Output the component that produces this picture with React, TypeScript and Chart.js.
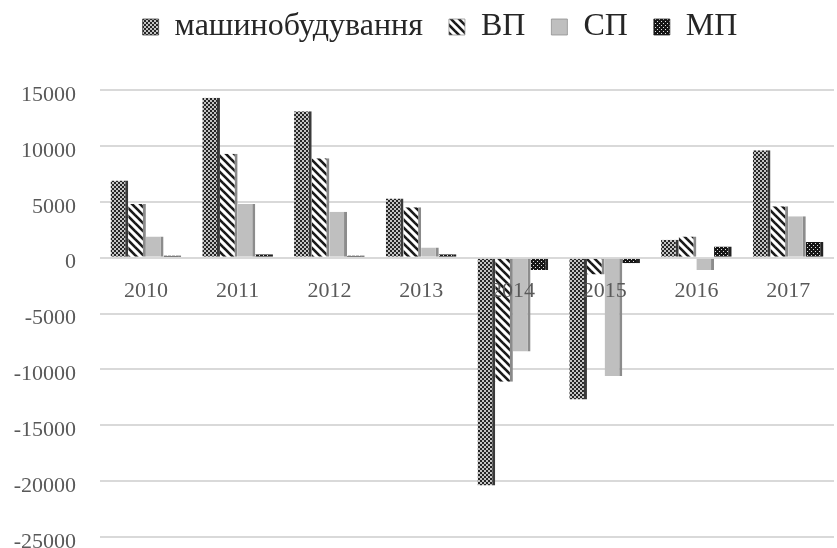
import React, { useEffect, useRef } from 'react';
import { Chart, registerables } from 'chart.js';

Chart.register(...registerables);

const categories = ['2010', '2011', '2012', '2013', '2014', '2015', '2016', '2017'];
const seriesNames = ['машинобудування', 'ВП', 'СП', 'МП'];
const mashValues = [6900, 14300, 13100, 5300, -20400, -12700, 1600, 9600];
const vpValues = [4800, 9300, 8900, 4500, -11100, -1500, 1900, 4600];
const spValues = [1900, 4800, 4100, 900, -8400, -10600, -1100, 3700];
const mpValues = [200, 300, 200, 300, -1100, -500, 1000, 1400];
const yMin = -25000;
const yMax = 15000;
const yStep = 5000;

const FONT = '"Liberation Serif", "Times New Roman", serif';

function makePattern(w: number, h: number, draw: (c: CanvasRenderingContext2D) => void) {
  const cv = document.createElement('canvas');
  cv.width = w;
  cv.height = h;
  const c = cv.getContext('2d')!;
  draw(c);
  return c.createPattern(cv, 'repeat')!;
}

const legendShift = {
  id: 'legendShift',
  afterLayout(chart: any) {
    if (chart.legend) {
      chart.legend.left += 23;
      chart.legend.right += 23;
    }
  },
};

export default function App() {
  const ref = useRef<HTMLCanvasElement>(null);

  useEffect(() => {
    document.body.style.margin = '0';
    const checker = makePattern(4, 4, (c) => {
      c.fillStyle = '#c4c4c4';
      c.fillRect(0, 0, 4, 4);
      c.fillStyle = '#262626';
      c.fillRect(0, 0, 2, 2);
      c.fillRect(2, 2, 2, 2);
    });
    const stripes = makePattern(8, 8, (c) => {
      c.fillStyle = '#ffffff';
      c.fillRect(0, 0, 8, 8);
      c.strokeStyle = '#1a1a1a';
      c.lineWidth = 2.6;
      for (const k of [-8, 0, 8]) {
        c.beginPath();
        c.moveTo(k - 1, -1);
        c.lineTo(k + 9, 9);
        c.stroke();
      }
    });
    const dots = makePattern(4, 4, (c) => {
      c.fillStyle = '#161616';
      c.fillRect(0, 0, 4, 4);
      c.fillStyle = '#e0e0e0';
      c.fillRect(1, 1, 1, 1);
      c.fillRect(3, 3, 1, 1);
    });

    const side = { top: 0, right: 3, bottom: 0, left: 0 };
    const chart = new Chart(ref.current!, {
      type: 'bar',
      data: {
        labels: categories,
        datasets: [
          { label: seriesNames[0], data: mashValues, backgroundColor: checker, borderColor: '#3a3a3a', borderWidth: side, xAxisID: 'x' },
          { label: seriesNames[1], data: vpValues, backgroundColor: stripes, borderColor: '#8a8a8a', borderWidth: side, xAxisID: 'x' },
          { label: seriesNames[2], data: spValues, backgroundColor: '#bfbfbf', borderColor: '#8c8c8c', borderWidth: side, xAxisID: 'x' },
          { label: seriesNames[3], data: mpValues, backgroundColor: dots, borderColor: '#222222', borderWidth: side, xAxisID: 'x' },
        ],
      },
      plugins: [legendShift],
      options: {
        animation: false,
        responsive: true,
        maintainAspectRatio: false,
        layout: { padding: { top: -15, right: 3, bottom: 11, left: 0 } },
        datasets: { bar: { categoryPercentage: 0.77, barPercentage: 1 } },
        plugins: {
          legend: {
            position: 'top',
            labels: {
              font: { family: FONT, size: 32 },
              color: '#262626',
              boxWidth: 16,
              boxHeight: 16,
              padding: 26,
            },
          },
          tooltip: { enabled: false },
        },
        scales: {
          x: {
            type: 'category',
            position: { y: 0 } as any,
            grid: { display: false },
            border: { display: false },
            ticks: { font: { family: FONT, size: 22 }, color: '#595959', padding: 12, z: 1 },
          },
          xTop: {
            type: 'category',
            position: 'top',
            labels: categories,
            grid: { display: false },
            border: { display: false },
            ticks: { display: false },
            afterFit: (s: any) => { s.height = 37; },
          },
          y: {
            min: yMin,
            max: yMax,
            ticks: {
              stepSize: yStep,
              font: { family: FONT, size: 22, lineHeight: 1 },
              color: '#595959',
              padding: 24,
              labelOffset: 5,
              callback: (v: any) => String(v),
            },
            grid: { color: '#d9d9d9', lineWidth: 2, drawTicks: false },
            border: { display: false },
            afterFit: (s: any) => {
              s.width = 100;
              s.paddingTop = 11;
              s.paddingBottom = 11;
            },
          },
        },
      },
    });
    return () => chart.destroy();
  }, []);

  return (
    <div style={{ width: 837, height: 548, position: 'relative' }}>
      <canvas ref={ref} />
    </div>
  );
}
